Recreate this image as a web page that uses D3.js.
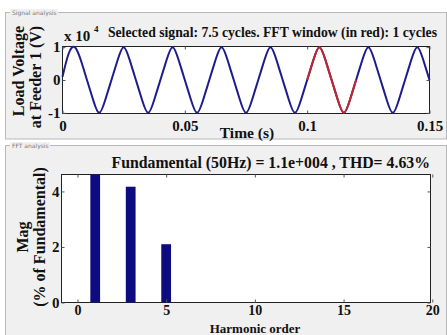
<!DOCTYPE html>
<html>
<head>
<meta charset="utf-8">
<script src="https://cdn.jsdelivr.net/npm/d3@7"></script>
<style>
  body { margin: 0; background: #fff; }
  svg text { font-family: "Liberation Serif", "Times New Roman", serif; font-weight: bold; fill: #111; }
  .panel-label { font-family: "DejaVu Sans", sans-serif; font-weight: normal; font-size: 6px; fill: #777; }
</style>
</head>
<body>
<div id="chart"></div>
<script>
// signal samples (quarter cycle apart), voltage in units of 1e4 V
const timeSec = [0, 0.0025, 0.005, 0.0075, 0.01, 0.0125, 0.015, 0.0175, 0.02, 0.0225, 0.025, 0.0275,
  0.03, 0.0325, 0.035, 0.0375, 0.04, 0.0425, 0.045, 0.0475, 0.05, 0.0525, 0.055, 0.0575, 0.06, 0.0625,
  0.065, 0.0675, 0.07, 0.0725, 0.075, 0.0775, 0.08, 0.0825, 0.085, 0.0875, 0.09, 0.0925, 0.095, 0.0975,
  0.1, 0.1025, 0.105, 0.1075, 0.11, 0.1125, 0.115, 0.1175, 0.12, 0.1225, 0.125, 0.1275, 0.13, 0.1325,
  0.135, 0.1375, 0.14, 0.1425, 0.145, 0.1475, 0.15];
const voltage = [0.1, 0.8, 1.0, 0.6, 0, -0.6, -1.0, -0.6, 0, 0.6, 1.0, 0.6,
  0, -0.6, -1.0, -0.6, 0, 0.6, 1.0, 0.6, 0, -0.6, -1.0, -0.6, 0, 0.6,
  1.0, 0.6, 0, -0.6, -1.0, -0.6, 0, 0.6, 1.0, 0.6, 0, -0.6, -1.0, -0.6,
  0, 0.6, 1.0, 0.6, 0, -0.6, -1.0, -0.6, 0, 0.6, 1.0, 0.6, 0, -0.6,
  -1.0, -0.6, 0, 0.6, 1.0, 0.6, 0];
const fftWindow = [0.1, 0.12];
const timeTicks = [0, 0.05, 0.1, 0.15];
const voltTicks = [-1, 0, 1];

// harmonic spectrum (% of fundamental)
const harmonicOrder = [1, 3, 5];
const harmonicMag = [100, 4.17, 2.1];
const orderTicks = [0, 5, 10, 15, 20];
const magTicks = [0, 2, 4];

const W = 447, H = 335;
const svg = d3.select('#chart').append('svg').attr('width', W).attr('height', H);

// panels
svg.append('rect').attr('x', 5.5).attr('y', 12.5).attr('width', 441).attr('height', 126.5)
  .attr('fill', '#f0f0f0').attr('stroke', '#b8b8b8');
svg.append('rect').attr('x', 5.5).attr('y', 145.5).attr('width', 441).attr('height', 195)
  .attr('fill', '#f0f0f0').attr('stroke', '#b8b8b8');
svg.append('rect').attr('x', 10).attr('y', 9).attr('width', 48).attr('height', 7).attr('fill', '#f0f0f0');
svg.append('text').attr('class', 'panel-label').attr('x', 12).attr('y', 14.5).text('Signal analysis');
svg.append('rect').attr('x', 10).attr('y', 142).attr('width', 40).attr('height', 7).attr('fill', '#f0f0f0');
svg.append('text').attr('class', 'panel-label').attr('x', 12).attr('y', 147.5).text('FFT analysis');

function styleTicks(g, size) {
  g.select('.domain').remove();
  g.selectAll('text').attr('font-size', size || 15).attr('fill', '#111');
  g.selectAll('line').attr('stroke', '#555');
}

// ---------- signal plot ----------
const sig = { left: 62.5, right: 429.5, top: 46.5, bottom: 113.5 };
const x1 = d3.scaleLinear().domain([0, 0.15]).range([sig.left, sig.right]);
const y1 = d3.scaleLinear().domain([-1.02, 1.02]).range([sig.bottom, sig.top]);

svg.append('rect').attr('x', sig.left).attr('y', sig.top)
  .attr('width', sig.right - sig.left).attr('height', sig.bottom - sig.top)
  .attr('fill', '#fff').attr('stroke', '#222').attr('stroke-width', 1);

svg.append('g').attr('transform', `translate(0,${sig.bottom})`)
  .call(d3.axisBottom(x1).tickValues(timeTicks).tickSize(-3).tickPadding(7).tickFormat(d => d))
  .call(styleTicks);
svg.append('g').attr('transform', `translate(0,${sig.top})`)
  .call(d3.axisTop(x1).tickValues(timeTicks).tickSize(-3).tickFormat(''))
  .call(styleTicks);
svg.append('g').attr('transform', `translate(${sig.left},0)`)
  .call(d3.axisLeft(y1).tickValues(voltTicks).tickSize(-3).tickPadding(2).tickFormat(d => d))
  .call(styleTicks);
svg.append('g').attr('transform', `translate(${sig.right},0)`)
  .call(d3.axisRight(y1).tickValues(voltTicks).tickSize(-3).tickFormat(''))
  .call(styleTicks);

const pts = timeSec.map((t, i) => ({ t, v: voltage[i] }));
const line = d3.line().x(d => x1(d.t)).y(d => y1(d.v)).curve(d3.curveNatural);
svg.append('path').datum(pts).attr('d', line)
  .attr('fill', 'none').attr('stroke', '#1c1c8e').attr('stroke-width', 2);
const redPts = pts.filter(d => d.t >= fftWindow[0] && d.t <= fftWindow[1]);
svg.append('path').datum(redPts).attr('d', line)
  .attr('fill', 'none').attr('stroke', '#c4262a').attr('stroke-width', 2);

svg.append('text').attr('x', 64).attr('y', 41).attr('font-size', 15).text('x 10');
svg.append('text').attr('x', 94).attr('y', 32).attr('font-size', 9).text('4');
svg.append('text').attr('x', 437).attr('y', 37).attr('text-anchor', 'end').attr('font-size', 13.7)
  .text('Selected signal: 7.5 cycles. FFT window (in red): 1 cycles');
svg.append('text').attr('x', 247).attr('y', 138).attr('text-anchor', 'middle').attr('font-size', 15.5)
  .text('Time (s)');
svg.append('text').attr('transform', 'translate(24,71) rotate(-90)').attr('text-anchor', 'middle')
  .attr('font-size', 16).text('Load Voltage');
svg.append('text').attr('transform', 'translate(41,77) rotate(-90)').attr('text-anchor', 'middle')
  .attr('font-size', 16).text('at Feeder 1 (V)');

// ---------- FFT plot ----------
const fft = { left: 61.5, right: 430.5, top: 174.5, bottom: 302.5 };
const x2 = d3.scaleLinear().domain([-0.9, 19.9]).range([fft.left, fft.right]);
const y2 = d3.scaleLinear().domain([0, 4.61]).range([fft.bottom, fft.top]);

svg.append('rect').attr('x', fft.left).attr('y', fft.top)
  .attr('width', fft.right - fft.left).attr('height', fft.bottom - fft.top)
  .attr('fill', '#fff').attr('stroke', '#222').attr('stroke-width', 1);

svg.append('clipPath').attr('id', 'fftclip').append('rect')
  .attr('x', fft.left).attr('y', fft.top).attr('width', fft.right - fft.left).attr('height', fft.bottom - fft.top);

const barW = x2(0.55) - x2(0);
svg.append('g').attr('clip-path', 'url(#fftclip)').selectAll('rect')
  .data(harmonicOrder.map((h, i) => ({ h, m: harmonicMag[i] })))
  .join('rect')
  .attr('x', d => x2(d.h) - barW / 2).attr('width', barW)
  .attr('y', d => y2(d.m)).attr('height', d => y2(0) - y2(d.m))
  .attr('fill', '#0c0c80');

svg.append('g').attr('transform', `translate(0,${fft.bottom})`)
  .call(d3.axisBottom(x2).tickValues(orderTicks).tickSize(-3).tickPadding(3).tickFormat(d3.format('d')))
  .call(g => styleTicks(g, 14));
svg.append('g').attr('transform', `translate(0,${fft.top})`)
  .call(d3.axisTop(x2).tickValues(orderTicks).tickSize(-3).tickFormat(''))
  .call(styleTicks);
svg.append('g').attr('transform', `translate(${fft.left},0)`)
  .call(d3.axisLeft(y2).tickValues(magTicks).tickSize(-3).tickPadding(2).tickFormat(d3.format('d')))
  .call(styleTicks);
svg.append('g').attr('transform', `translate(${fft.right},0)`)
  .call(d3.axisRight(y2).tickValues(magTicks).tickSize(-3).tickFormat(''))
  .call(styleTicks);

svg.append('text').attr('x', 430).attr('y', 168).attr('text-anchor', 'end').attr('font-size', 15.8)
  .text('Fundamental (50Hz) = 1.1e+004 , THD= 4.63%');
svg.append('text').attr('x', 255).attr('y', 332.5).attr('text-anchor', 'middle').attr('font-size', 13)
  .text('Harmonic order');
svg.append('text').attr('transform', 'translate(28,237) rotate(-90)').attr('text-anchor', 'middle')
  .attr('font-size', 16).text('Mag');
svg.append('text').attr('transform', 'translate(45,237) rotate(-90)').attr('text-anchor', 'middle')
  .attr('font-size', 16).text('(% of Fundamental)');
</script>
</body>
</html>
